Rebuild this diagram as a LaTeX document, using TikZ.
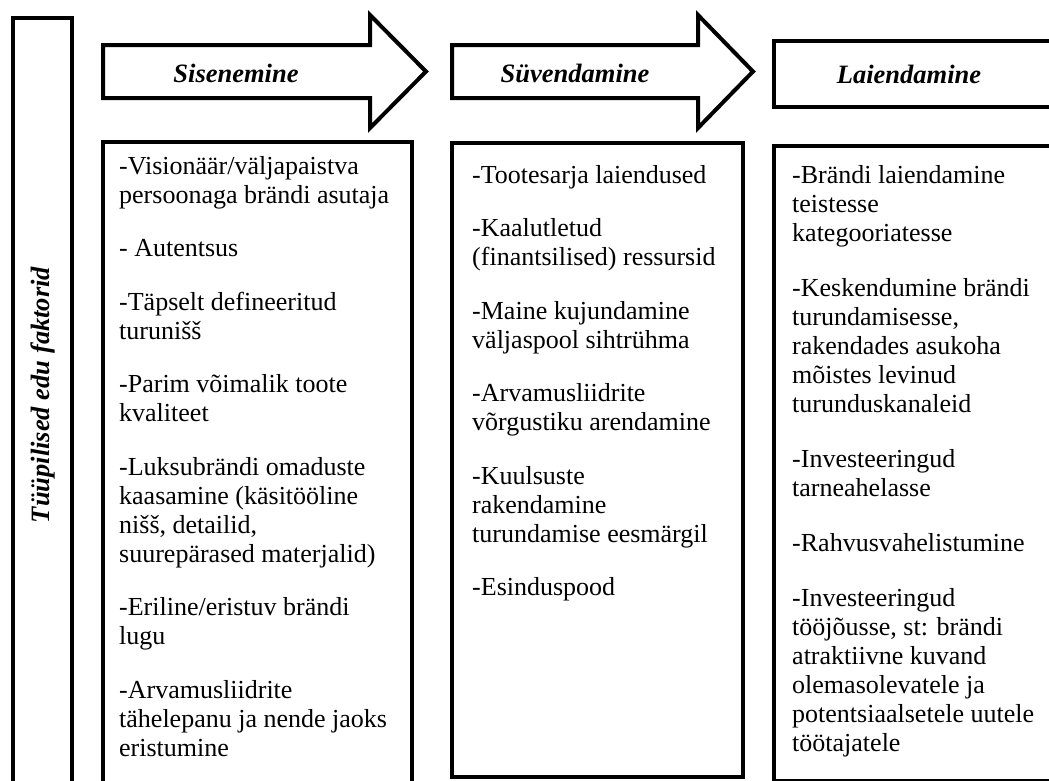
\documentclass[tikz,border=0pt]{standalone}
\usepackage{fontspec}
\setmainfont{Liberation Serif}
\newcommand{\firstline}{\rule{0pt}{20pt}}
\begin{document}
\begin{tikzpicture}[x=1pt,y=-1pt,
  frame/.style={draw=black, line width=4pt, fill=white},
  headtext/.style={inner sep=0pt, font=\fontsize{26.5}{30}\selectfont\bfseries\itshape},
  bodytext/.style={anchor=north west, inner sep=0pt, align=left,
    font=\fontsize{26}{29}\selectfont}]
\useasboundingbox (0,0) rectangle (1049,780);
\clip (0,0) rectangle (1049,780);

% left column with the rotated title
\draw[frame] (13,18) rectangle (72,820);
\node[headtext, rotate=90] (title) at (42.5,395) {Tüüpilised edu faktorid};

% stage arrows
\draw[frame] (103,45) -- (370,45) -- (370,15) -- (426,71.5) -- (370,128)
  -- (370,98) -- (103,98) -- cycle;
\node[headtext] (stage1) at (236,73.5) {Sisenemine};

\draw[frame] (452,45) -- (698,45) -- (698,15) -- (753,71.5) -- (698,128)
  -- (698,98) -- (452,98) -- cycle;
\node[headtext] (stage2) at (575,73.5) {Süvendamine};

\draw[frame] (774,41) rectangle (1070,107);
\node[headtext] (stage3) at (909,74.5) {Laiendamine};

% factor boxes
\draw[frame] (103,142) rectangle (412,820);
\draw[frame] (452,143) rectangle (743,777);
\draw[frame] (774,146) rectangle (1070,781);

\node[bodytext] (list1) at (119,154) {\firstline-Visionäär/väljapaistva\\
  persoonaga brändi asutaja\\[24.5pt]
  - Autentsus\\[24.5pt]
  -Täpselt defineeritud\\
  turunišš\\[24.5pt]
  -Parim võimalik toote\\
  kvaliteet\\[24.5pt]
  -Luksubrändi omaduste\\
  kaasamine (käsitööline\\
  nišš, detailid,\\
  suurepärased materjalid)\\[24.5pt]
  -Eriline/eristuv brändi\\
  lugu\\[24.5pt]
  -Arvamusliidrite\\
  tähelepanu ja nende jaoks\\
  eristumine};

\node[bodytext] (list2) at (472,163) {\firstline-Tootesarja laiendused\\[24.5pt]
  -Kaalutletud\\
  (finantsilised) ressursid\\[24.5pt]
  -Maine kujundamine\\
  väljaspool sihtrühma\\[24.5pt]
  -Arvamusliidrite\\
  võrgustiku arendamine\\[24.5pt]
  -Kuulsuste\\
  rakendamine\\
  turundamise eesmärgil\\[24.5pt]
  -Esinduspood};

\node[bodytext] (list3) at (792,163) {\firstline-Brändi laiendamine\\
  teistesse\\
  kategooriatesse\\[26pt]
  -Keskendumine brändi\\
  turundamisesse,\\
  rakendades asukoha\\
  mõistes levinud\\
  turunduskanaleid\\[26pt]
  -Investeeringud\\
  tarneahelasse\\[26pt]
  -Rahvusvahelistumine\\[26pt]
  -Investeeringud\\
  tööjõusse, st: brändi\\
  atraktiivne kuvand\\
  olemasolevatele ja\\
  potentsiaalsetele uutele\\
  töötajatele};
\end{tikzpicture}
\end{document}
